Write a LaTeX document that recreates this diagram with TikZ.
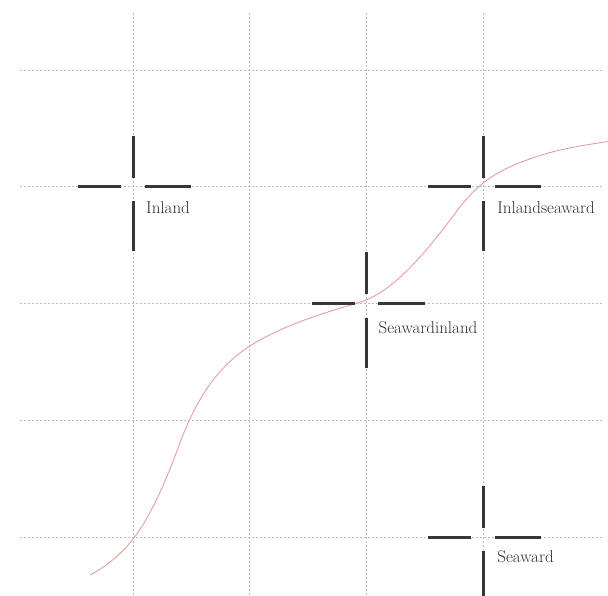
\documentclass[tikz,border=0pt]{standalone}
\usepackage{tikz}
\definecolor{gridgray}{RGB}{190,190,190}
\definecolor{armgray}{RGB}{55,55,55}
\definecolor{curvepink}{RGB}{228,150,150}
\definecolor{labelgray}{RGB}{45,45,45}
\begin{document}
\begin{tikzpicture}[x=116.7pt,y=116.7pt,
  gridline/.style={draw=gridgray,line width=0.8pt,dash pattern=on 2pt off 2pt},
  arm/.style={draw=armgray,line width=3pt},
  curveline/.style={draw=curvepink,line width=0.8pt},
  lbl/.style={anchor=base west,inner sep=0pt,text=labelgray,font=\fontsize{17}{20}\selectfont}]
\useasboundingbox (-0.1397,-0.497) rectangle (5.070,4.6015);
% grid
\foreach \x in {1,2,3,4} \draw[gridline] (\x,-0.6) -- (\x,4.5);
\foreach \y in {0,1,2,3,4} \draw[gridline] (0.03,\y) -- (5.02,\y);
% cross centres
\coordinate (inland) at (1,3);
\coordinate (inlandseaward) at (4,3);
\coordinate (seawardinland) at (3,2);
\coordinate (seaward) at (4,0);
% curve
\draw[curveline] (0.632,-0.326)
  .. controls (0.982,-0.1335) and (1.15,0.125) .. (1.40,0.80)
  .. controls (1.65,1.475) and (1.97,1.6495) .. (2.32,1.80)
  .. controls (2.527,1.889) and (2.733,1.948) .. (2.94,2.01)
  .. controls (3.22,2.094) and (3.50,2.422) .. (3.78,2.80)
  .. controls (3.997,3.0925) and (4.213,3.174) .. (4.43,3.25)
  .. controls (4.647,3.326) and (4.863,3.3575) .. (5.08,3.39);
% crosses
\foreach \c in {inland,inlandseaward,seawardinland,seaward}{
  \draw[arm] ([xshift=-0.1*116.7pt]\c) -- ([xshift=-0.47*116.7pt]\c);
  \draw[arm] ([xshift=0.1*116.7pt]\c) -- ([xshift=0.5*116.7pt]\c);
  \draw[arm] ([yshift=0.08*116.7pt]\c) -- ([yshift=0.44*116.7pt]\c);
  \draw[arm] ([yshift=-0.12*116.7pt]\c) -- ([yshift=-0.55*116.7pt]\c);
}
% labels
\node[lbl] (linland) at ([xshift=13pt,yshift=-27pt]inland) {Inland};
\node[lbl] (linlandseaward) at ([xshift=14pt,yshift=-27pt]inlandseaward) {Inlandseaward};
\node[lbl] (lseawardinland) at ([xshift=12pt,yshift=-30pt]seawardinland) {Seawardinland};
\node[lbl] (lseaward) at ([xshift=14pt,yshift=-25pt]seaward) {Seaward};
\end{tikzpicture}
\end{document}
